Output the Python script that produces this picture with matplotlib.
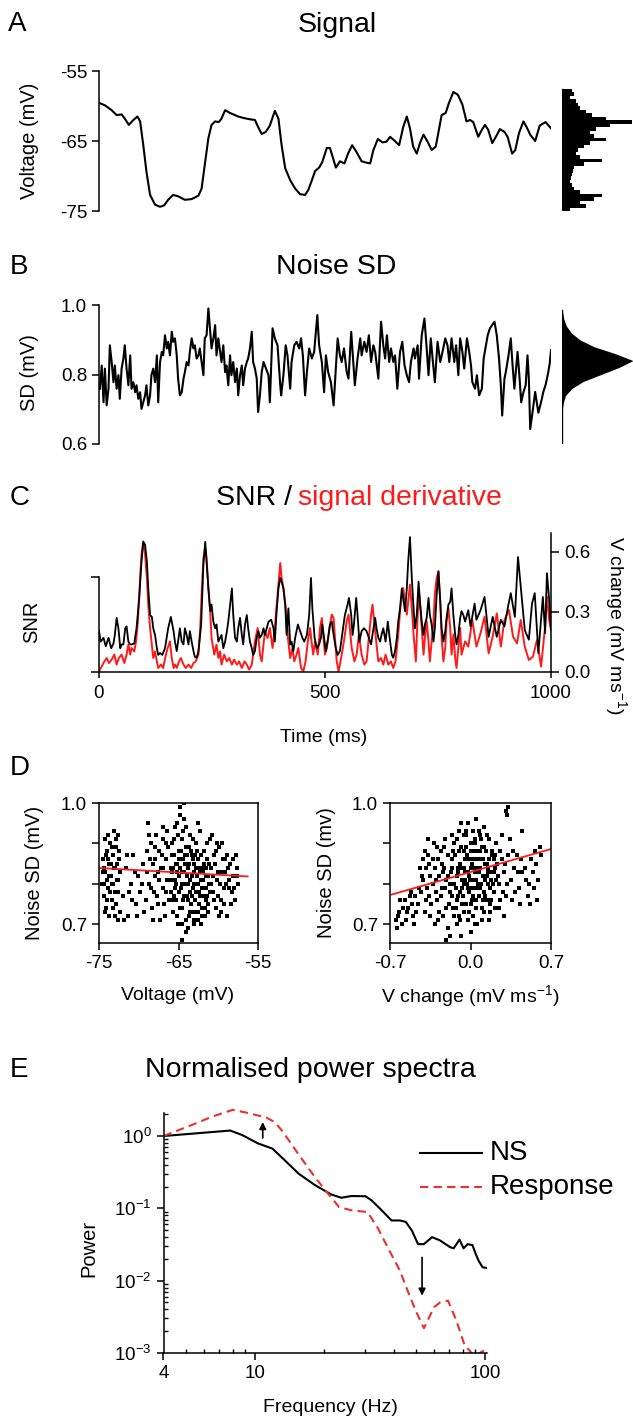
import matplotlib
matplotlib.use('Agg')
import matplotlib.pyplot as plt
import numpy as np
from matplotlib.lines import Line2D
from matplotlib.ticker import NullFormatter, FixedLocator

plt.rcParams.update({
    'font.family': ['Liberation Sans', 'DejaVu Sans'],
    'font.size': 13.5,
    'mathtext.default': 'regular',
    'axes.unicode_minus': False,
    'axes.linewidth': 1.1,
    'xtick.major.width': 1.1, 'ytick.major.width': 1.1,
    'xtick.minor.width': 1.0, 'ytick.minor.width': 1.0,
    'xtick.major.size': 5, 'ytick.major.size': 5,
    'xtick.direction': 'out', 'ytick.direction': 'out',
})

# ---------------- DATA ----------------
# A: signal (time ms, voltage mV)
sig_t = [2,13,28,39,50,57,66,76,85,91,
         98,105,113,124,135,144,153,164,175,190,
         205,220,227,234,242,249,257,265,271,279,
         290,301,308,319,334,345,352,360,369,378,
         389,397,404,412,423,434,445,456,463,471,
         478,487,494,504,511,524,533,543,551,560,
         570,581,592,600,607,617,627,636,644,653,
         664,673,681,688,695,703,710,718,727,736,
         745,752,758,767,774,784,794,804,813,821,
         828,839,847,854,861,870,878,887,897,904,
         914,921,929,939,946,954,965,975,988,1000]
sig_v = [-59.6,-59.9,-60.6,-61.3,-61.2,-61.8,-62.7,-62.0,-61.5,-62.2,
         -65.6,-69.4,-72.7,-74.1,-74.4,-74.2,-73.4,-72.7,-72.9,-73.4,
         -73.3,-72.8,-71.8,-68.4,-64.6,-62.7,-62.2,-62.3,-61.8,-60.6,
         -61.0,-61.3,-61.5,-61.7,-61.9,-62.0,-63.0,-64.0,-63.7,-62.8,
         -60.7,-61.8,-65.6,-68.9,-70.6,-71.8,-72.6,-72.7,-72.0,-70.6,
         -69.3,-68.8,-68.0,-66.0,-66.0,-68.8,-67.9,-68.2,-66.8,-65.6,
         -66.6,-67.9,-68.1,-68.2,-66.3,-64.7,-65.2,-65.1,-64.4,-64.9,
         -65.6,-63.0,-61.5,-63.2,-65.8,-66.8,-65.3,-64.1,-65.1,-66.3,
         -65.8,-63.4,-61.3,-61.0,-59.6,-58.0,-58.4,-59.8,-62.2,-62.0,
         -62.3,-64.4,-63.4,-62.7,-63.4,-65.3,-64.4,-63.3,-63.7,-64.4,
         -66.8,-66.3,-63.9,-62.2,-63.0,-64.1,-65.0,-62.8,-62.3,-63.2]

# A: voltage histogram (bin centre mV, count)
vhist_centers = [-57.75,-58.25,-58.75,-59.25,-59.75,-60.25,-60.75,-61.25,-61.75,-62.25,
                 -62.75,-63.25,-63.75,-64.25,-64.75,-65.25,-65.75,-66.25,-66.75,-67.25,
                 -67.75,-68.25,-68.75,-69.25,-69.75,-70.25,-70.75,-71.25,-71.75,-72.25,
                 -72.75,-73.25,-73.75,-74.25,-74.75]
vhist_counts = [25,30,20,35,40,45,60,75,110,175,
                120,85,70,80,110,70,55,40,35,45,
                100,55,30,28,25,22,20,25,30,45,
                100,80,45,60,20]

# B: noise SD (time ms, SD mV)
noise_t = [2,6,10,13,17,21,24,28,32,35,
           39,43,46,50,54,57,61,65,69,72,
           76,80,83,87,91,94,98,102,105,109,
           113,116,120,124,128,131,135,139,142,146,
           150,153,157,161,164,168,172,175,179,183,
           187,190,194,198,201,205,209,212,216,220,
           223,227,231,234,238,242,246,249,253,257,
           260,264,268,271,275,279,282,286,290,293,
           297,301,305,308,312,316,319,323,327,330,
           334,338,341,345,349,352,356,360,364,
           375,378,384,389,395,401,403,408,413,417,
           423,426,432,437,443,447,451,456,460,465,
           471,476,483,487,493,498,502,507,513,519,
           524,528,533,537,542,548,552,558,561,566,
           572,578,581,587,592,597,602,607,611,618,
           624,629,633,637,642,646,651,655,660,666,
           671,676,681,686,690,696,699,705,708,714,
           720,725,729,734,738,743,749,755,760,766,
           771,775,780,786,790,795,799,804,808,814,
           819,823,826,832,836,841,847,851,856,860,
           865,875,880,885,889,892,897,900,906,911,
           915,919,922,926,930,934,939,944,948,951,
           954,960,965,972,978,983,988,993,997,1000]
noise_sd = [.759,.826,.720,.817,.711,.759,.884,.836,.778,.826,
            .759,.798,.730,.817,.846,.884,.817,.769,.855,.759,
            .778,.749,.769,.730,.749,.701,.720,.740,.769,.711,
            .740,.798,.817,.778,.855,.720,.836,.865,.855,.913,
            .875,.894,.855,.923,.894,.904,.855,.788,.740,.749,
            .788,.807,.836,.826,.865,.904,.875,.884,.846,.855,
            .875,.836,.798,.904,.913,.990,.923,.875,.904,.942,
            .855,.904,.865,.836,.884,.807,.826,.769,.855,.798,
            .836,.778,.817,.740,.798,.826,.769,.817,.836,.846,
            .875,.923,.836,.817,.788,.692,.740,.807,.836,
            .798,.720,.933,.904,.884,.769,.740,.798,.884,.855,
            .759,.836,.884,.894,.875,.904,.855,.740,.807,.875,
            .846,.865,.971,.884,.836,.749,.855,.807,.778,.711,
            .817,.904,.855,.836,.875,.807,.788,.923,.865,.769,
            .846,.904,.855,.894,.865,.913,.836,.884,.865,.788,
            .952,.884,.846,.913,.836,.875,.836,.855,.759,.865,
            .894,.826,.798,.778,.836,.875,.846,.884,.788,.913,
            .961,.875,.798,.904,.846,.778,.894,.836,.865,.904,
            .884,.836,.904,.836,.884,.798,.904,.865,.817,.904,
            .865,.826,.778,.759,.798,.740,.759,.846,.884,.913,
            .933,.952,.913,.846,.769,.682,.788,.807,.855,.904,
            .826,.759,.807,.865,.798,.720,.749,.769,.855,.788,
            .643,.700,.750,.690,.720,.750,.770,.800,.830,.870]

# B: SD distribution (SD level mV, relative density)
sdhist_levels = [0.604,0.70,0.72,0.74,0.76,0.78,0.80,0.82,0.84,0.86,0.88,0.90,0.92,0.94,0.96,0.98,0.985]
sdhist_density = [0.0,0.005,0.02,0.05,0.14,0.30,0.55,0.80,1.0,0.75,0.45,0.25,0.13,0.06,0.025,0.008,0.0]

# C: SNR (time ms, SNR in units of the left tick)
snr_trace = [(0,.43),(4,.32),(10,.36),(15,.27),(21,.36),(27,.25),(32,.30),(35,.39),(39,.57),(43,.46),
             (47,.25),(50,.29),(54,.29),(58,.46),(61,.48),(65,.32),(69,.29),(72,.29),(78,.30),(83,.46),
             (89,.78),(94,1.16),(98,1.37),(102,1.34),(106,1.16),(109,.88),(113,.60),(117,.58),(120,.46),(124,.39),
             (128,.25),(131,.18),(135,.20),(140,.18),(146,.25),(153,.46),(159,.58),(165,.43),(168,.32),(172,.22),
             (175,.32),(179,.46),(183,.32),(187,.29),(190,.46),(194,.39),(198,.29),(201,.43),(205,.32),(209,.22),
             (212,.16),(216,.15),(220,.22),(226,.50),(231,1.13),(235,1.37),(238,1.16),(242,.88),(246,.64),(249,.71),
             (253,.53),(257,.46),(260,.50),(264,.32),(268,.36),(271,.39),(275,.25),(279,.32),(283,.43),(286,.53),
             (290,.71),(294,.88),(297,.60),(301,.36),(305,.32),(308,.46),(312,.57),(316,.39),(319,.29),(323,.50),
             (327,.60),(330,.46),(334,.32),(338,.25),(341,.18),(345,.22),(349,.36),(353,.43),(356,.36),(360,.39),
             (364,.46),(367,.39),
             (375,.53),(381,.55),(386,.46),(389,.32),(393,.64),(397,.88),(401,.99),(404,.95),(408,.88),(412,.71),
             (415,.39),(419,.67),(423,.29),(426,.32),(430,.22),(434,.36),(440,.50),(445,.43),(450,.36),(454,.32),
             (460,.39),(465,.60),(469,.99),(472,.67),(477,.36),(482,.25),(487,.29),(491,.36),(494,.50),(499,.32),
             (502,.22),(507,.36),(511,.50),(515,.53),(519,.39),(524,.25),(528,.18),(533,.22),(538,.39),(544,.60),
             (550,.71),(553,.78),(558,.60),(561,.39),(564,.50),(569,.78),(572,.60),(576,.32),(581,.43),(586,.46),
             (592,.43),(597,.36),(602,.29),(605,.39),(611,.57),(614,.46),(618,.36),(622,.32),(625,.39),(629,.46),
             (634,.32),(639,.53),(643,.36),(648,.18),(651,.15),(655,.22),(659,.36),(662,.53),(666,.67),(670,.88),
             (673,.78),(677,.64),(681,.88),(684,1.16),(688,1.42),(692,.99),(696,.67),(699,.46),(703,.60),(707,.95),
             (710,.74),(714,.53),(718,.39),(721,.50),(725,.57),(729,.78),(732,.60),(736,.50),(740,.32),(743,.46),
             (747,.81),(751,1.06),(755,.74),(758,.46),(762,.32),(766,.43),(769,.57),(773,.71),(777,.74),(780,.88),
             (784,.60),(788,.39),(791,.29),(795,.39),(799,.57),(802,.64),(806,.60),(810,.53),
             (817,.65),(822,.48),(831,.72),(835,.55),(844,.65),(853,.79),(862,.37),(871,.58),(880,.37),(889,.55),
             (897,.48),(905,.69),(911,.83),(920,.58),(927,1.21),(933,.90),(942,.44),(951,.34),(958,.72),(964,.83),
             (972,.20),(978,.55),(982,.79),(987,.41),(991,1.04),(996,.76),(1000,.44)]

# C: signal derivative magnitude (time ms, mV/ms)
deriv_trace = [(0,.003),(6,.028),(12,.053),(17,.07),(22,.045),(28,.062),(34,.087),(39,.037),(44,.07),(50,.087),
               (56,.045),(61,.087),(65,.137),(69,.087),(72,.12),(78,.103),(82,.153),(86,.253),(91,.47),(94,.587),
               (98,.653),(102,.587),(106,.47),(109,.337),(113,.22),(117,.137),(120,.07),(124,.103),(128,.053),(131,.02),
               (137,.037),(142,.02),(148,.087),(152,.12),(157,.153),(161,.07),(165,.02),(168,.037),(172,.02),(177,.053),
               (181,.07),(187,.037),(192,.02),(198,.037),(204,.02),(209,.045),(214,.053),(220,.087),(224,.22),(227,.387),
               (231,.57),(235,.62),(238,.57),(242,.42),(246,.303),(249,.17),(255,.087),(260,.137),(264,.07),(268,.103),
               (271,.037),(277,.087),(283,.053),(288,.07),(294,.037),(299,.062),(305,.037),(310,.053),(316,.02),(322,.053),
               (327,.037),(332,.012),(338,.037),(345,.153),(351,.22),(356,.087),(360,.053),(367,.203),
               (373,.17),(378,.22),(384,.12),(389,.22),(395,.387),(401,.545),(404,.47),(408,.42),(413,.32),(418,.17),
               (423,.07),(428,.12),(432,.053),(437,.087),(441,.12),(447,.02),(452,.003),(457,.053),(462,.153),(467,.22),
               (471,.137),(474,.087),(478,.153),(484,.087),(489,.22),(493,.27),(496,.187),(500,.087),(504,.12),(507,.17),
               (511,.237),(515,.287),(519,.27),(522,.17),(526,.053),(530,.003),(533,.037),(537,.087),(543,.17),(548,.253),
               (552,.287),(555,.22),(559,.12),(565,.053),(570,.087),(575,.187),(581,.087),(587,.037),(592,.053),(597,.17),
               (602,.287),(605,.337),(609,.253),(614,.137),(618,.053),(624,.07),(629,.037),(634,.087),(640,.037),(646,.053),
               (651,.02),(656,.053),(662,.187),(666,.303),(670,.387),(673,.42),(677,.353),(681,.287),(684,.353),(688,.437),
               (692,.32),(696,.187),(701,.053),(705,.287),(709,.387),(713,.253),(718,.087),(721,.17),(725,.253),(729,.153),
               (732,.053),(736,.153),(740,.253),(743,.387),(747,.47),(751,.503),(755,.353),(758,.17),(762,.053),(766,.12),
               (769,.253),(773,.32),(777,.22),(780,.087),(784,.187),(788,.07),(791,.02),(795,.12),(799,.22),(802,.087),
               (806,.12),(810,.153),
               (817,.127),(826,.26),(835,.127),(844,.193),(853,.277),(862,.093),(871,.177),(880,.293),(889,.127),(897,.26),
               (907,.31),(916,.177),(925,.143),(933,.26),(942,.127),(951,.06),(960,.077),(969,.16),(978,.027),(987,.227),
               (991,.377),(996,.26),(1000,.21)]

# D: noise SD vs voltage (mV, mV)
sd_vs_voltage = [(-74.6,0.80),(-74.5,0.86),(-74.4,0.77),(-74.3,0.91),(-74.2,0.83),(-74.1,0.74),(-74.0,0.88),(-73.9,0.79),
    (-73.8,0.85),(-73.7,0.72),(-73.6,0.90),(-73.5,0.82),(-73.4,0.76),(-73.3,0.87),(-73.2,0.80),(-73.1,0.93),(-73.0,0.84),
    (-72.9,0.75),(-72.8,0.89),(-72.7,0.81),(-72.6,0.78),(-72.5,0.86),(-72.4,0.73),(-72.3,0.83),(-74.4,0.84),(-73.9,0.86),
    (-73.4,0.89),(-72.9,0.91),(-74.0,0.81),(-73.6,0.78),(-73.2,0.74),(-72.6,0.71),
    (-72.0,0.77),(-71.6,0.84),(-71.3,0.72),(-71.0,0.80),(-70.7,0.87),(-70.4,0.75),(-70.1,0.82),(-69.8,0.78),(-69.5,0.85),
    (-69.3,0.73),(-71.8,0.71),(-70.9,0.76),
    (-69.0,0.88),(-68.8,0.95),(-68.7,0.80),(-68.5,0.90),(-68.3,0.74),(-68.2,0.85),(-68.0,0.82),(-67.8,0.92),(-67.7,0.77),
    (-67.5,0.88),(-67.3,0.71),(-67.2,0.84),(-67.0,0.79),(-66.9,0.91),(-66.8,0.75),(-66.6,0.86),(-66.5,0.81),(-66.3,0.89),
    (-68.6,0.86),(-68.1,0.78),(-67.6,0.83),(-67.1,0.87),(-66.7,0.72),(-66.4,0.93),
    (-66.0,0.84),(-65.9,0.78),(-65.8,0.90),(-65.7,0.73),(-65.6,0.87),(-65.5,0.81),(-65.4,0.94),(-65.3,0.76),(-65.2,0.85),
    (-65.1,0.70),(-65.0,0.88),(-64.9,0.82),(-64.8,0.97),(-64.7,0.79),(-64.6,0.91),(-64.5,0.74),(-64.4,0.86),(-64.3,1.00),
    (-64.2,0.80),(-64.1,0.68),(-64.0,0.89),(-63.9,0.77),(-63.8,0.84),(-63.7,0.72),(-63.6,0.92),(-63.5,0.81),(-63.4,0.75),
    (-63.3,0.87),(-63.2,0.79),(-63.1,0.70),(-63.0,0.85),(-62.9,0.76),(-62.8,0.90),(-62.7,0.82),(-62.6,0.73),(-62.5,0.86),
    (-62.4,0.78),(-62.3,0.93),(-62.2,0.81),(-62.1,0.74),(-62.0,0.84),(-61.9,0.77),(-61.8,0.88),(-61.7,0.72),(-61.6,0.82),
    (-61.5,0.79),(-61.4,0.86),(-61.3,0.75),(-61.2,0.80),(-61.1,0.91),
    (-65.8,0.83),(-65.3,0.80),(-64.9,0.86),(-64.6,0.83),(-64.2,0.87),(-63.9,0.82),(-63.5,0.78),(-63.1,0.83),(-62.8,0.80),
    (-62.4,0.84),(-62.0,0.79),(-61.6,0.76),(-65.6,0.77),(-64.4,0.76),(-63.3,0.73),(-62.5,0.71),(-64.7,0.88),(-63.7,0.89),
    (-62.9,0.87),(-61.9,0.83),(-64.5,0.66),(-64.8,0.99),
    (-60.9,0.84),(-60.7,0.78),(-60.5,0.87),(-60.3,0.74),(-60.1,0.81),(-59.9,0.89),(-59.7,0.76),(-59.5,0.83),(-59.3,0.79),
    (-59.1,0.86),(-58.9,0.72),(-58.7,0.81),(-58.5,0.85),(-58.3,0.78),(-58.1,0.82),(-57.9,0.76),(-57.7,0.84),(-57.5,0.80),
    (-60.8,0.92),(-60.2,0.90),(-59.6,0.73),(-59.0,0.80),(-58.4,0.75),(-57.8,0.87),(-60.6,0.82),(-60.0,0.77),(-59.4,0.86),
    (-58.8,0.84),
    (-65.95,0.81),(-65.85,0.87),(-65.75,0.76),(-65.65,0.84),(-65.55,0.91),(-65.45,0.79),(-65.35,0.85),(-65.25,0.72),
    (-65.15,0.83),(-65.05,0.92),(-64.95,0.78),(-64.85,0.84),(-64.75,0.74),(-64.65,0.86),(-64.55,0.80),(-64.45,0.93),
    (-64.35,0.83),(-64.25,0.77),(-64.15,0.85),(-64.05,0.71),(-63.95,0.87),(-63.85,0.80),(-63.75,0.76),(-63.65,0.85),
    (-63.55,0.73),(-63.45,0.88),(-63.35,0.82),(-63.25,0.77),(-63.15,0.86),(-63.05,0.80),(-62.95,0.73),(-62.85,0.84),
    (-62.75,0.78),(-62.65,0.88),(-62.55,0.80),(-62.45,0.75),(-62.35,0.83),(-62.25,0.77),(-62.15,0.87),(-62.05,0.72),
    (-61.95,0.81),(-61.85,0.79),(-61.75,0.85),(-61.65,0.74),(-61.55,0.84),(-61.45,0.77),(-61.35,0.82),(-61.25,0.73),
    (-61.15,0.85),(-61.05,0.78),
    (-64.6,0.70),(-63.8,0.69),(-63.0,0.71),(-62.2,0.70),(-64.0,0.94),(-63.2,0.91),(-62.6,0.95),(-65.2,0.95),(-64.3,0.96),
    (-61.4,0.90),(-60.4,0.85),(-60.0,0.83),(-59.8,0.80),(-59.2,0.83),(-58.6,0.79),(-58.2,0.86),(-57.6,0.82),(-60.5,0.76),
    (-59.9,0.72),(-59.3,0.75),(-58.0,0.79),(-60.9,0.80),(-60.3,0.88),(-59.5,0.90),(-58.9,0.87),
    (-74.55,0.83),(-74.35,0.80),(-74.15,0.87),(-73.95,0.76),(-73.75,0.82),(-73.55,0.85),(-73.35,0.80),(-73.15,0.84),
    (-72.95,0.78),(-72.75,0.85),(-72.55,0.81),(-72.45,0.88),(-74.25,0.73),(-73.85,0.92),(-73.05,0.72),(-72.65,0.92),
    (-68.9,0.83),(-68.4,0.79),(-67.9,0.86),(-67.4,0.81),(-66.95,0.84),(-66.55,0.78),(-68.7,0.92),(-67.0,0.94),
    (-66.2,0.76),(-68.2,0.71),(-67.6,0.75),(-69.6,0.80),(-70.5,0.83),(-71.2,0.78),(-70.2,0.72),(-71.5,0.87),
    (-69.1,0.76),(-68.0,0.89),(-66.6,0.90)]
fit_voltage_x = [-75.0, -56.3]
fit_voltage_y = [0.839, 0.818]

# D: noise SD vs V change (mV/ms, mV)
sd_vs_change = [(-0.18,0.80),(-0.16,0.86),(-0.15,0.74),(-0.14,0.90),(-0.12,0.82),(-0.11,0.77),(-0.10,0.88),(-0.09,0.71),
    (-0.08,0.84),(-0.07,0.79),(-0.06,0.92),(-0.05,0.81),(-0.04,0.75),(-0.03,0.87),(-0.02,0.83),(-0.01,0.78),(0.00,0.90),
    (0.01,0.85),(0.02,0.72),(0.03,0.81),(0.04,0.88),(0.05,0.76),(0.06,0.84),(0.07,0.93),(0.08,0.79),(0.09,0.86),(0.10,0.74),
    (0.11,0.82),(0.12,0.89),(0.13,0.77),(0.14,0.85),(0.15,0.80),(0.16,0.91),(0.17,0.73),(0.18,0.83),(0.19,0.87),(0.20,0.78),
    (0.21,0.84),(0.22,0.81),
    (-0.17,0.83),(-0.13,0.79),(-0.09,0.85),(-0.05,0.86),(-0.01,0.82),(0.03,0.86),(0.07,0.83),(0.11,0.86),(0.15,0.84),
    (-0.15,0.88),(-0.11,0.84),(-0.07,0.81),(-0.03,0.80),(0.01,0.79),(0.05,0.81),(0.09,0.80),(0.13,0.81),(0.17,0.79),
    (-0.12,0.76),(-0.06,0.73),(0.00,0.75),(0.06,0.70),(0.12,0.73),(-0.10,0.93),(-0.02,0.95),(0.04,0.91),(0.10,0.89),
    (-0.20,0.69),(-0.08,0.67),(-0.14,0.72),(0.02,0.77),(0.08,0.88),(-0.04,0.89),(0.14,0.92),(0.18,0.76),(-0.16,0.77),
    (0.20,0.86),(0.00,0.84),(0.04,0.83),(-0.06,0.84),
    (-0.42,0.82),(-0.40,0.88),(-0.38,0.79),(-0.36,0.85),(-0.34,0.75),(-0.32,0.90),(-0.30,0.81),(-0.28,0.86),(-0.26,0.77),
    (-0.24,0.83),(-0.22,0.79),(-0.20,0.87),(-0.39,0.84),(-0.33,0.80),(-0.27,0.73),(-0.23,0.89),(-0.37,0.91),(-0.29,0.76),
    (-0.25,0.85),(-0.21,0.74),(-0.35,0.72),(-0.31,0.70),(-0.41,0.86),
    (-0.65,0.71),(-0.62,0.73),(-0.60,0.70),(-0.57,0.76),(-0.54,0.74),(-0.52,0.78),(-0.50,0.72),(-0.48,0.77),(-0.46,0.75),
    (-0.64,0.69),(-0.56,0.71),(-0.45,0.79),
    (0.24,0.82),(0.26,0.88),(0.28,0.78),(0.30,0.85),(0.32,0.80),(0.34,0.91),(0.36,0.76),(0.38,0.84),(0.40,0.87),(0.42,0.79),
    (0.45,0.83),(0.48,0.81),(0.50,0.77),(0.53,0.86),(0.56,0.88),(0.58,0.76),(0.60,0.89),(0.55,0.79),(0.25,0.74),(0.29,0.72),
    (0.33,0.99),(0.31,0.98),(0.27,0.92),(0.45,0.93),(0.52,0.75),
    (-0.21,0.66),(-0.18,0.67),(0.05,0.96),(-0.08,0.95),(0.00,0.68),
    (-0.195,0.82),(-0.175,0.78),(-0.165,0.84),(-0.145,0.80),(-0.135,0.87),(-0.125,0.79),(-0.115,0.91),(-0.105,0.83),
    (-0.095,0.78),(-0.085,0.89),(-0.075,0.84),(-0.065,0.77),(-0.055,0.88),(-0.045,0.83),(-0.035,0.92),(-0.025,0.79),
    (-0.015,0.86),(-0.005,0.81),(0.005,0.88),(0.015,0.76),(0.025,0.84),(0.035,0.90),(0.045,0.79),(0.055,0.86),
    (0.065,0.80),(0.075,0.77),(0.085,0.84),(0.095,0.91),(0.105,0.82),(0.115,0.78),(0.125,0.85),(0.135,0.88),
    (0.145,0.76),(0.155,0.83),(0.165,0.86),(0.175,0.81),(0.185,0.88),(0.195,0.80),(0.205,0.83),(0.215,0.87),
    (-0.19,0.75),(-0.13,0.74),(-0.07,0.75),(-0.01,0.73),(0.05,0.74),(0.11,0.76),(0.17,0.75),(0.21,0.74),(-0.16,0.92),
    (-0.04,0.93),(0.08,0.92),(0.12,0.94),(-0.12,0.70),(0.04,0.70),(0.16,0.71),(0.02,0.93),(-0.02,0.71),(0.10,0.71),
    (-0.10,0.72),(0.22,0.90),(0.00,0.86),(0.06,0.88),(-0.06,0.80),(0.14,0.82),
    (-0.43,0.78),(-0.41,0.81),(-0.37,0.87),(-0.35,0.82),(-0.31,0.84),(-0.29,0.89),(-0.27,0.82),(-0.25,0.79),(-0.23,0.84),
    (-0.21,0.81),(-0.33,0.86),(-0.39,0.76),(-0.28,0.71),(-0.24,0.72),(-0.22,0.91),(-0.36,0.77),(-0.30,0.78),(-0.26,0.88),
    (-0.40,0.73),(-0.44,0.84),
    (-0.63,0.72),(-0.59,0.74),(-0.55,0.73),(-0.51,0.75),(-0.47,0.73),(-0.61,0.76),(-0.53,0.77),(-0.49,0.70),
    (0.23,0.85),(0.25,0.80),(0.27,0.86),(0.29,0.83),(0.31,0.77),(0.33,0.87),(0.35,0.81),(0.37,0.88),(0.39,0.78),(0.41,0.83),
    (0.44,0.86),(0.47,0.84),(0.51,0.80),(0.54,0.83),(0.57,0.85),(0.59,0.81),(0.32,0.97),(0.43,0.75),(0.61,0.87),(0.26,0.76)]
fit_change_x = [-0.686, 0.70]
fit_change_y = [0.773, 0.886]

# E: normalised power spectra (Hz, power)
ns_freq = [4, 7.8, 8.8, 10.3, 11.9, 13.2, 15.5, 18.2, 21.4, 23.7, 26.2, 30.2, 32.1, 35.5, 39.2, 42.6,
           45.2, 48.1, 51.1, 54.2, 58.8, 63.7, 70.5, 73, 77.4, 80.6, 84, 88.1, 91, 93.6, 97.5, 101.5]
ns_power = [1.0, 1.19, 1.03, 0.79, 0.67, 0.49, 0.30, 0.21, 0.156, 0.14, 0.148, 0.147, 0.129, 0.094, 0.068, 0.068,
            0.065, 0.049, 0.032, 0.032, 0.040, 0.036, 0.029, 0.028, 0.037, 0.028, 0.032, 0.031, 0.0235, 0.019, 0.0153, 0.015]
resp_freq = [4, 5.4, 6.5, 8.0, 9.2, 11.2, 12.2, 13.2, 15.5, 18.2, 20.6, 23.2, 26.2, 30.8, 34, 37.7, 42.6,
             46.1, 50, 54.2, 60, 63.7, 69, 75, 81.3, 90, 99.5]
resp_power = [1.0, 1.45, 1.85, 2.3, 2.1, 1.8, 1.55, 1.15, 0.55, 0.27, 0.165, 0.104, 0.094, 0.089, 0.055, 0.029, 0.0138,
              0.0072, 0.0038, 0.0022, 0.0043, 0.0050, 0.0053, 0.0028, 0.0013, 0.0009, 0.0011]
arrow_up = (10.8, 0.94, 1.56)      # freq, from, to
arrow_down = (53.2, 0.021, 0.0062)

# ---------------- FIGURE ----------------
W, H = 633, 1417
fig = plt.figure(figsize=(W / 100, H / 100), dpi=100)

def R(x0, y0, x1, y1):
    return [x0 / W, 1 - y1 / H, (x1 - x0) / W, (y1 - y0) / H]

def T(x, y, s, **kw):
    kw.setdefault('ha', 'center')
    kw.setdefault('va', 'center')
    return fig.text(x / W, 1 - y / H, s, **kw)

LET = 20
TIT = 20.5
LAB = 14.5
XLAB = 14
RED = '#ff1a1a'

# ---- A ----
T(8, 24, 'A', fontsize=LET, ha='left')
T(337, 25, 'Signal', fontsize=TIT)
axA = fig.add_axes(R(99, 71, 551, 211))
axA.plot(sig_t, sig_v, color='k', lw=1.5)
axA.set_xlim(0, 1000)
axA.set_ylim(-75, -55)
for s in ['top', 'right', 'bottom']:
    axA.spines[s].set_visible(False)
axA.set_xticks([])
axA.set_yticks([-75, -65, -55])
axA.set_yticklabels(['-75', '-65', '-55'])
T(30, 141, 'Voltage (mV)', rotation=90, fontsize=LAB)

axAh = fig.add_axes(R(562, 71, 633, 211))
axAh.barh(vhist_centers, vhist_counts, height=0.5, color='k', lw=0)
axAh.plot([0, 0], [-74.9, -57.6], color='k', lw=1.0)
axAh.set_ylim(-75, -55)
axAh.set_xlim(0, 178)
axAh.axis('off')

# ---- B ----
T(10, 267, 'B', fontsize=LET, ha='left')
T(336, 267, 'Noise SD', fontsize=TIT)
axB = fig.add_axes(R(99, 305, 551, 444))
axB.plot(noise_t, noise_sd, color='k', lw=1.5)
axB.set_xlim(0, 1000)
axB.set_ylim(0.6, 1.0)
for s in ['top', 'right', 'bottom']:
    axB.spines[s].set_visible(False)
axB.set_xticks([])
axB.set_yticks([0.6, 0.8, 1.0])
axB.set_yticklabels(['0.6', '0.8', '1.0'])
T(30, 373, 'SD (mV)', rotation=90, fontsize=LAB)

axBh = fig.add_axes(R(562, 305, 633, 444))
axBh.fill_betweenx(sdhist_levels, 0, sdhist_density, color='k', lw=0)
axBh.plot([0, 0], [sdhist_levels[0], sdhist_levels[-1]], color='k', lw=1.0)
axBh.set_ylim(0.6, 1.0)
axBh.set_xlim(0, 1.0)
axBh.axis('off')

# ---- C ----
T(10, 498, 'C', fontsize=LET, ha='left')
T(292, 498, 'SNR /', fontsize=TIT, ha='right')
T(298, 498, 'signal derivative', fontsize=TIT, ha='left', color=RED)
d_t, d_v = np.array(deriv_trace).T
s_t, s_v = np.array(snr_trace).T
axV = fig.add_axes(R(99, 533, 551, 672))
axV.plot(d_t, d_v, color=RED, lw=1.4)
axV.set_xlim(0, 1000)
axV.set_ylim(0, 0.695)
axS = axV.twinx()
axS.plot(s_t, s_v, color='k', lw=1.3)
axS.set_ylim(0, 0.695 / 0.475)
axV.yaxis.tick_right()
axS.yaxis.tick_left()
for s in ['top', 'left']:
    axV.spines[s].set_visible(False)
for s in ['top', 'right', 'bottom']:
    axS.spines[s].set_visible(False)
axS.spines['left'].set_bounds(0, 1)
axS.set_yticks([0, 1])
axS.set_yticklabels([])
axS.tick_params(axis='y', length=6)
axV.set_yticks([0, 0.3, 0.6])
axV.set_yticklabels(['0.0', '0.3', '0.6'])
axV.tick_params(axis='y', length=6)
axV.set_xticks([0, 500, 1000])
axV.tick_params(axis='x', length=4, pad=5)
T(32, 622, 'SNR', rotation=90, fontsize=LAB)
T(616, 625, 'V change (mV ms$^{-1}$)', rotation=270, fontsize=14)
T(324, 737, 'Time (ms)', fontsize=XLAB)

# ---- D ----
T(10, 768, 'D', fontsize=LET, ha='left')
vx, vy = np.array(sd_vs_voltage).T
cx, cy = np.array(sd_vs_change).T
axD1 = fig.add_axes(R(99, 803, 258, 943))
axD1.scatter(vx, vy, s=6, marker='s', color='k', lw=0)
axD1.plot(fit_voltage_x, fit_voltage_y, color=RED, lw=1.3)
axD1.set_xlim(-75, -55)
axD1.set_ylim(0.653, 1.0)
axD1.set_xticks([-75, -65, -55])
axD1.set_xticklabels(['-75', '-65', '-55'])
axD1.set_yticks([0.7, 0.8, 0.9, 1.0])
axD1.set_yticklabels(['0.7', '', '', '1.0'])
T(34, 873, 'Noise SD (mV)', rotation=90, fontsize=LAB)
T(178, 996, 'Voltage (mV)', fontsize=XLAB)

axD2 = fig.add_axes(R(390, 803, 551, 943))
axD2.scatter(cx, cy, s=6, marker='s', color='k', lw=0)
axD2.plot(fit_change_x, fit_change_y, color=RED, lw=1.3)
axD2.set_xlim(-0.7, 0.7)
axD2.set_ylim(0.653, 1.0)
axD2.set_xticks([-0.7, 0.0, 0.7])
axD2.set_xticklabels(['-0.7', '0.0', '0.7'])
axD2.set_yticks([0.7, 0.8, 0.9, 1.0])
axD2.set_yticklabels(['0.7', '', '', '1.0'])
T(327, 873, 'Noise SD (mv)', rotation=90, fontsize=LAB)
T(470, 996, 'V change (mV ms$^{-1}$)', fontsize=XLAB)

# ---- E ----
T(10, 1070, 'E', fontsize=LET, ha='left')
T(310, 1070, 'Normalised power spectra', fontsize=TIT)
axE = fig.add_axes(R(163.5, 1106, 486.5, 1353))
axE.plot(ns_freq, ns_power, color='k', lw=1.5)
axE.plot(resp_freq, resp_power, color='#e8302f', lw=1.5, dashes=(4, 2.5))
axE.set_xscale('log')
axE.set_yscale('log')
axE.set_xlim(4, 101.4)
axE.set_ylim(1e-3, 2.6)
for s in ['top', 'right']:
    axE.spines[s].set_visible(False)
axE.spines['left'].set_bounds(1e-3, 2.1)
axE.xaxis.set_major_locator(FixedLocator([4, 10, 100]))
axE.set_xticklabels(['4', '10', '100'])
axE.xaxis.set_minor_locator(FixedLocator([5, 6, 7, 8, 9, 20, 30, 40, 50, 60, 70, 80, 90]))
axE.xaxis.set_minor_formatter(NullFormatter())
axE.yaxis.set_major_locator(FixedLocator([1e-3, 1e-2, 1e-1, 1e0]))
axE.set_yticklabels(['$10^{-3}$', '$10^{-2}$', '$10^{-1}$', '$10^{0}$'])
ymin = [m * 10.0 ** e for e in (-3, -2, -1) for m in range(2, 10)] + [2.0]
axE.yaxis.set_minor_locator(FixedLocator(ymin))
axE.yaxis.set_minor_formatter(NullFormatter())
axE.tick_params(which='major', direction='out', length=5)
axE.tick_params(which='minor', direction='in', length=3)
axE.annotate('', xy=(arrow_up[0], arrow_up[2]), xytext=(arrow_up[0], arrow_up[1]),
             arrowprops=dict(arrowstyle='-|>', color='k', lw=1.2, mutation_scale=10, shrinkA=0, shrinkB=0))
axE.annotate('', xy=(arrow_down[0], arrow_down[2]), xytext=(arrow_down[0], arrow_down[1]),
             arrowprops=dict(arrowstyle='-|>', color='k', lw=1.2, mutation_scale=10, shrinkA=0, shrinkB=0))
fig.add_artist(Line2D([420 / W, 482 / W], [1 - 1153 / H] * 2, color='k', lw=1.5))
fig.add_artist(Line2D([420 / W, 482 / W], [1 - 1187 / H] * 2, color='#e8302f', lw=1.5, dashes=(4, 2.5)))
T(490, 1153, 'NS', fontsize=20, ha='left')
T(490, 1187, 'Response', fontsize=20, ha='left')
T(89, 1248, 'Power', rotation=90, fontsize=LAB)
T(330, 1407, 'Frequency (Hz)', fontsize=XLAB)

fig.savefig('out.png', dpi=100)
